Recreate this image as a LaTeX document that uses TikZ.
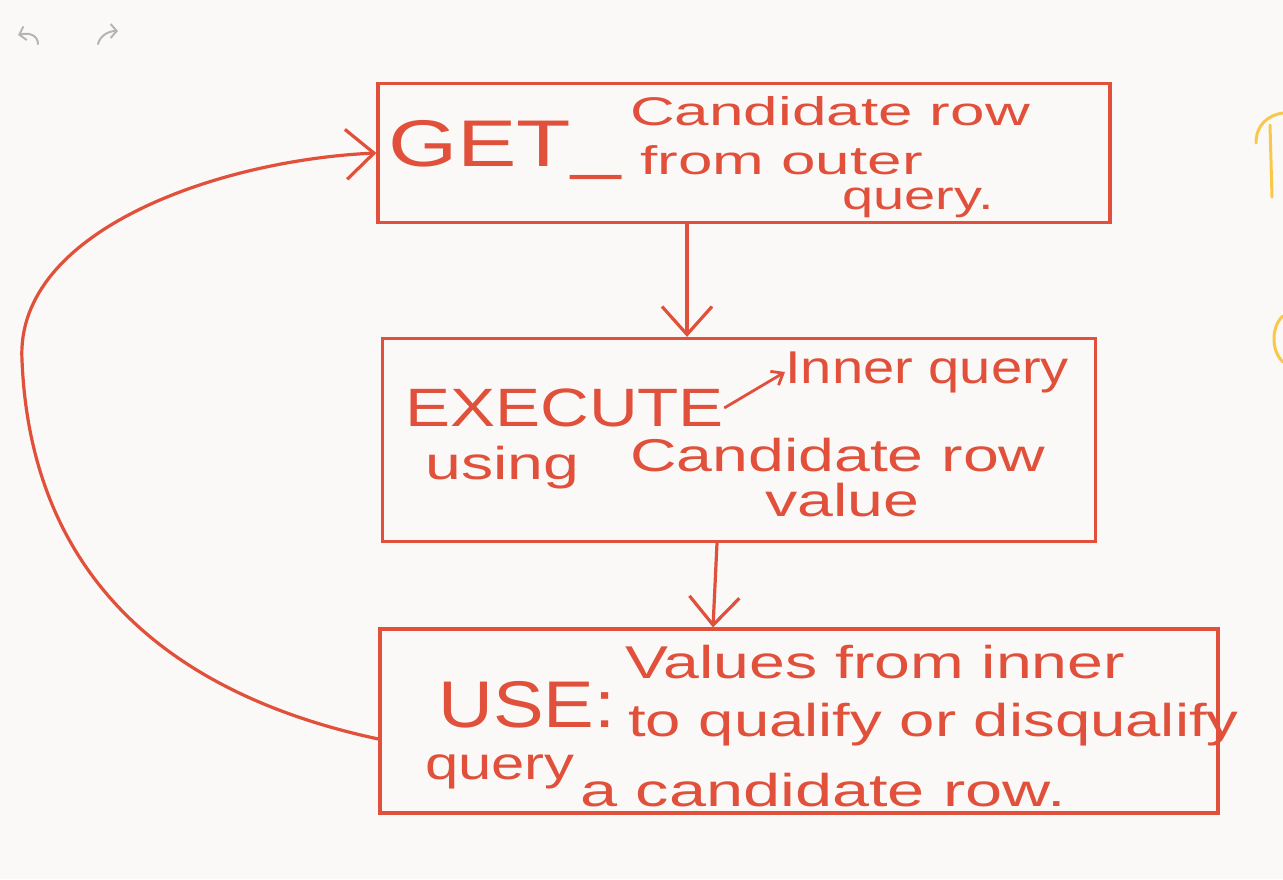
\documentclass[tikz,border=0pt]{standalone}
\usepackage{fontspec}
\setmainfont{Liberation Sans}
\usetikzlibrary{arrows.meta}
\definecolor{ink}{HTML}{E0503A}
\definecolor{paper}{HTML}{FAF9F7}
\definecolor{hl}{HTML}{F9C84A}
\definecolor{ui}{HTML}{B5B5B5}
\newcommand\hw[2][1.4]{\scalebox{#1}[1]{#2}}
\tikzset{
  boxnode/.style={draw=ink, line width=3.2pt, minimum width=#1, inner sep=0pt},
  txt/.style={text=ink, anchor=west, inner sep=0pt, font=\fontsize{46}{50}\selectfont},
  smalltxt/.style={text=ink, anchor=west, inner sep=0pt, font=\fontsize{40}{44}\selectfont},
  bigtxt/.style={text=ink, anchor=west, inner sep=0pt, font=\fontsize{66}{70}\selectfont},
  flow/.style={draw=ink, line width=3.2pt, -{Straight Barb[length=28pt,width=50pt,line width=3.2pt]}},
  smallflow/.style={draw=ink, line width=2.8pt, -{Straight Barb[length=10pt,width=16pt,line width=2.8pt]}},
  uiarrow/.style={draw=ui, line width=2pt, line cap=round, -{Straight Barb[length=6pt,width=14pt,line width=2pt]}},
  hlstroke/.style={draw=hl, line width=3pt, line cap=round}
}
\begin{document}
\begin{tikzpicture}[x=1pt,y=-1pt]
\fill[paper] (0,0) rectangle (1283,879);
\useasboundingbox (0,0) rectangle (1283,879);

% undo / redo icons
\coordinate (u0) at (38,44);
\coordinate (u1) at (18,35);
\draw[uiarrow] (u0) .. controls (38,36) and (30,32) .. (u1);
\coordinate (r0) at (98,44);
\coordinate (r1) at (118,31);
\draw[uiarrow] (r0) .. controls (100,36) and (108,31) .. (r1);

% yellow partial marks at the right edge
\draw[hlstroke] (1256,143) .. controls (1256,125) and (1268,115) .. (1283,113);
\draw[hlstroke] (1270,125) -- (1272,197);
\draw[hlstroke] (1283,316) .. controls (1272,325) and (1270,350) .. (1283,362);

% boxes
\node[boxnode=732pt, minimum height=139pt] (box1) at (744,153) {};
\node[boxnode=713pt, minimum height=203pt] (box2) at (739,440) {};
\node[boxnode=838pt, minimum height=184pt] (box3) at (799,721) {};

% box 1 text
\node[bigtxt] (t1a) at (388,150) {\hw[1.35]{GET\_}};
\node[smalltxt] (t1b) at (630,111) {\hw[1.55]{Candidate row}};
\node[smalltxt] (t1c) at (640,160) {\hw[1.55]{from outer}};
\node[smalltxt] (t1d) at (842,203) {\hw[1.4]{query.}};

% box 2 text
\node[txt, font=\fontsize{54}{58}\selectfont] (t2a) at (405,408) {\hw[1.25]{EXECUTE}};
\node[txt] (t2b) at (785,372) {\hw[1.22]{Inner query}};
\draw[smallflow] (t2a.east) -- (t2b.west);
\node[txt] (t2c) at (425,468) {\hw{using}};
\node[txt] (t2d) at (630,455) {\hw{Candidate row}};
\node[txt] (t2e) at (765,500) {\hw{value}};

% box 3 text
\node[bigtxt] (t3a) at (438,705) {\hw[1.15]{USE:}};
\node[txt] (t3b) at (625,662) {\hw{Values from inner}};
\node[txt] (t3c) at (628,725) {\hw[1.38]{to qualify or disqualify}};
\node[txt] (t3d) at (425,772) {\hw[1.3]{query}};
\node[txt] (t3e) at (580,790) {\hw[1.45]{a candidate row.}};

% connectors
\draw[flow] ([xshift=-57pt]box1.south) -- ([xshift=-52pt]box2.north);
\draw[flow] ([xshift=-22pt]box2.south) -- ([xshift=-86pt]box3.north);
\draw[flow] ([yshift=-18pt]box3.west) .. controls (150,690) and (30,560) .. (22,360)
  .. controls (15,230) and (220,160) .. (box1.west);
\end{tikzpicture}
\end{document}
